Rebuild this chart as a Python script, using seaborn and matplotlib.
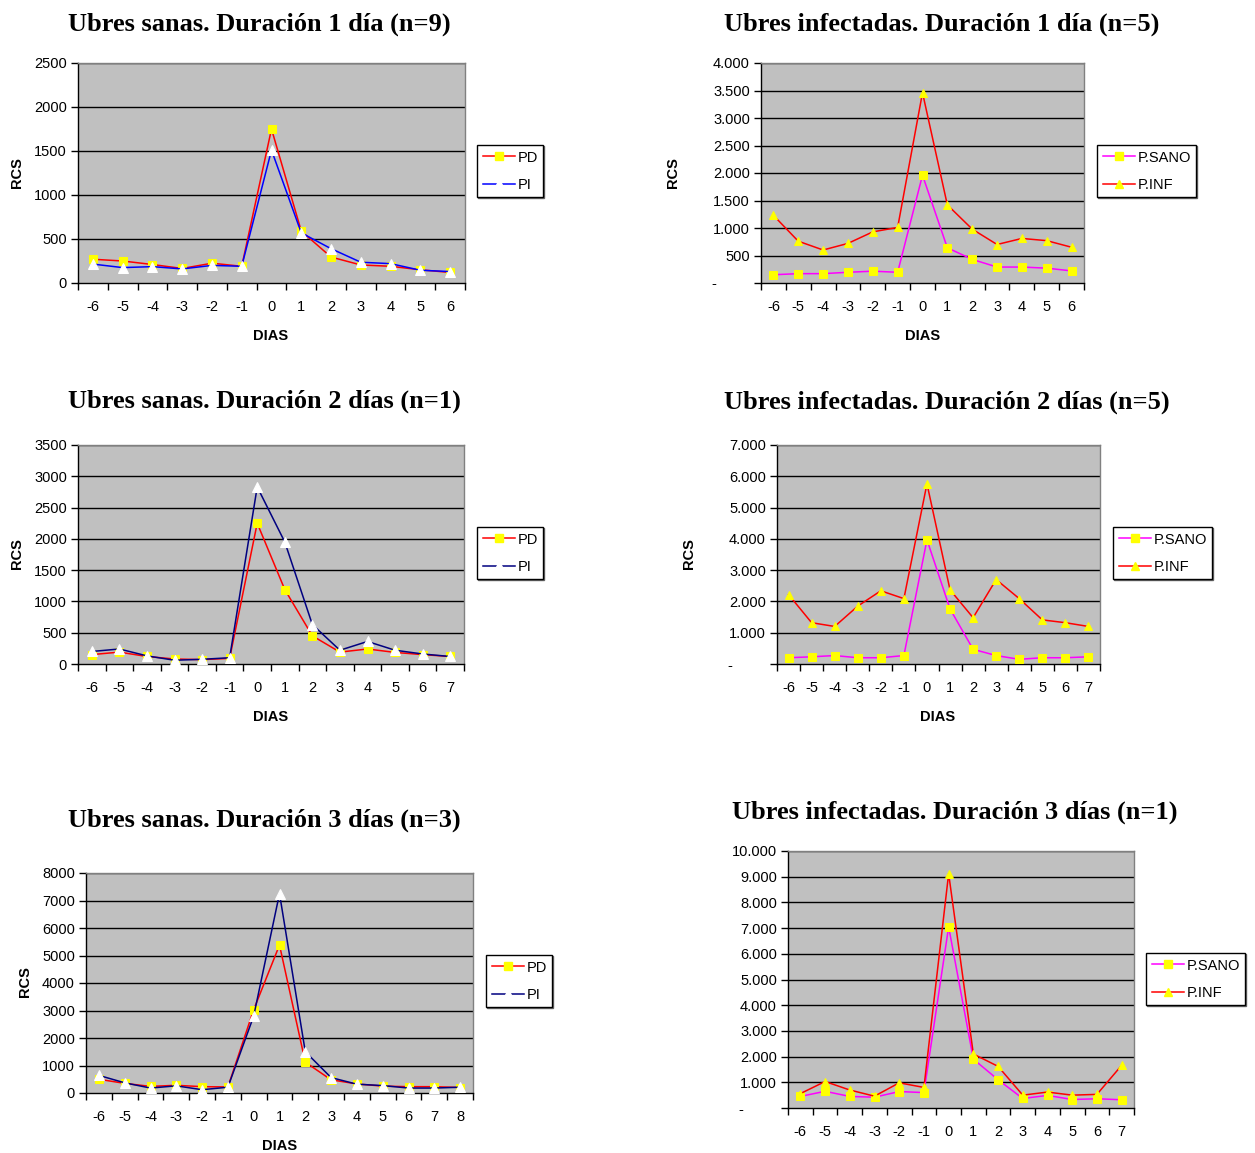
import matplotlib
matplotlib.use("Agg")
import matplotlib.pyplot as plt
import seaborn as sns
from matplotlib.lines import Line2D
from matplotlib.ticker import FixedLocator, FuncFormatter

W, H = 1255, 1153

# ---- data (RCS per day) ----
dias_1 = [-6, -5, -4, -3, -2, -1, 0, 1, 2, 3, 4, 5, 6]
sanas1_pd = [270, 250, 210, 165, 225, 190, 1750, 590, 295, 205, 190, 150, 120]
sanas1_pi = [215, 175, 186, 160, 200, 190, 1510, 570, 390, 236, 220, 145, 130]
inf1_sano = [150, 170, 170, 195, 215, 195, 1960, 640, 430, 290, 290, 270, 220]
inf1_inf = [1230, 760, 600, 720, 930, 1010, 3460, 1420, 980, 700, 810, 770, 650]

dias_2 = [-6, -5, -4, -3, -2, -1, 0, 1, 2, 3, 4, 5, 6, 7]
sanas2_pd = [150, 190, 120, 80, 70, 90, 2250, 1190, 450, 190, 240, 185, 150, 120]
sanas2_pi = [200, 240, 130, 60, 75, 100, 2830, 1950, 630, 220, 360, 220, 160, 120]
inf2_sano = [200, 230, 270, 200, 200, 270, 3970, 1760, 470, 270, 150, 200, 200, 230]
inf2_inf = [2220, 1320, 1200, 1850, 2340, 2090, 5760, 2370, 1480, 2700, 2090, 1410, 1320, 1200]

dias_3s = [-6, -5, -4, -3, -2, -1, 0, 1, 2, 3, 4, 5, 6, 7, 8]
sanas3_pd = [500, 350, 240, 280, 230, 220, 3030, 5380, 1120, 480, 330, 250, 230, 230, 200]
sanas3_pi = [640, 370, 180, 260, 120, 210, 2800, 7250, 1500, 560, 320, 270, 180, 180, 210]

dias_3i = [-6, -5, -4, -3, -2, -1, 0, 1, 2, 3, 4, 5, 6, 7]
inf3_sano = [450, 650, 450, 420, 640, 600, 7050, 1900, 1100, 370, 490, 330, 360, 320]
inf3_inf = [560, 1030, 700, 460, 980, 800, 9120, 2100, 1620, 500, 620, 500, 530, 1660]

plt.rcParams["font.family"] = ["Liberation Sans", "DejaVu Sans"]

fig = plt.figure(figsize=(W / 100, H / 100), dpi=100)

TICK_FS = 10.5


def px_axes(l, t, r, b):
    return fig.add_axes([l / W, 1 - b / H, (r - l) / W, (b - t) / H])


def fmt_plain(v, _):
    return f"{int(v)}"


def fmt_dots(v, _):
    if v == 0:
        return "-        "
    return f"{int(v):,}".replace(",", ".")


SQ = dict(marker="s", markersize=6.2, markerfacecolor="#FFFF00", markeredgecolor="#FFFF00")
TRI_W = dict(marker="^", markersize=6.5, markerfacecolor="white", markeredgecolor="white")
TRI_Y = dict(marker="^", markersize=6.0, markerfacecolor="#FFFF00", markeredgecolor="#FFFF00")


def draw_panel(box, dias, series, ymax, ystep, fmt):
    ax = px_axes(*box)
    ax.set_facecolor("#C0C0C0")
    pos = list(range(len(dias)))
    for vals, color, mk in series:
        sns.lineplot(x=pos, y=vals, ax=ax, color=color, linewidth=1.1,
                     legend=False, clip_on=False, zorder=3, **mk)
    ax.set_xlim(-0.5, len(dias) - 0.5)
    ax.set_ylim(0, ymax)
    yt = list(range(0, ymax + 1, ystep))
    ax.yaxis.set_major_locator(FixedLocator(yt))
    ax.yaxis.set_major_formatter(FuncFormatter(fmt))
    for y in yt[1:]:
        ax.axhline(y, color="black", linewidth=1.0, zorder=1)
    ax.set_xticks(pos)
    ax.set_xticklabels([str(d) for d in dias])
    ax.set_xticks([p - 0.5 for p in pos] + [len(dias) - 0.5], minor=True)
    ax.tick_params(axis="x", which="major", length=0, pad=12, labelsize=TICK_FS)
    ax.tick_params(axis="x", which="minor", length=5, width=1, direction="out")
    ax.tick_params(axis="y", which="major", length=5, width=1, direction="out",
                   pad=3, labelsize=TICK_FS)
    ax.set_xlabel("")
    ax.set_ylabel("")
    for s in ("top", "right"):
        ax.spines[s].set_color("#808080")
        ax.spines[s].set_linewidth(1.0)
    for s in ("left", "bottom"):
        ax.spines[s].set_color("black")
        ax.spines[s].set_linewidth(1.0)
    return ax


def add_legend(x, y, items):
    handles = [Line2D([0], [0], color=c, linewidth=1.1, **mk) for _, c, mk in items]
    labels = [lab for lab, _, _ in items]
    leg = fig.legend(handles, labels, loc="upper left",
                     bbox_to_anchor=(x / W, 1 - y / H), bbox_transform=fig.transFigure,
                     borderaxespad=0, frameon=True, fancybox=False,
                     shadow={"color": "0.4", "alpha": 1.0, "ox": 0.7, "oy": -0.7},
                     fontsize=10.5, handlelength=2.2, handletextpad=0.2,
                     labelspacing=0.9, borderpad=0.38)
    leg.get_frame().set_edgecolor("black")
    leg.get_frame().set_linewidth(1.0)


def title(x, y, text):
    fig.text(x / W, 1 - y / H, text, ha="center", va="center",
             fontsize=19, fontweight="bold", family=["Liberation Serif", "DejaVu Serif"])


def label(x, y, text, rot=0):
    fig.text(x / W, 1 - y / H, text, ha="center", va="center",
             fontsize=10.5, fontweight="bold", rotation=rot)


# top-left
draw_panel((78, 63, 465, 283), dias_1,
           [(sanas1_pd, "#FF0000", SQ), (sanas1_pi, "#0000FF", TRI_W)], 2500, 500, fmt_plain)
title(259, 24, "Ubres sanas. Duración 1 día (n=9)")
label(17, 173, "RCS", 90)
label(271, 336, "DIAS")
add_legend(477, 145, [("PD", "#FF0000", SQ), ("PI", "#0000FF", TRI_W)])

# top-right
draw_panel((761, 63, 1084, 283), dias_1,
           [(inf1_sano, "#FF00FF", SQ), (inf1_inf, "#FF0000", TRI_Y)], 4000, 500, fmt_dots)
title(942, 24, "Ubres infectadas. Duración 1 día (n=5)")
label(673, 173, "RCS", 90)
label(923, 336, "DIAS")
add_legend(1097, 145, [("P.SANO", "#FF00FF", SQ), ("P.INF", "#FF0000", TRI_Y)])

# middle-left
draw_panel((78, 445, 464, 664), dias_2,
           [(sanas2_pd, "#FF0000", SQ), (sanas2_pi, "#000080", TRI_W)], 3500, 500, fmt_plain)
title(264, 401, "Ubres sanas. Duración 2 días (n=1)")
label(17, 554, "RCS", 90)
label(271, 717, "DIAS")
add_legend(477, 527, [("PD", "#FF0000", SQ), ("PI", "#000080", TRI_W)])

# middle-right
draw_panel((777, 445, 1100, 664), dias_2,
           [(inf2_sano, "#FF00FF", SQ), (inf2_inf, "#FF0000", TRI_Y)], 7000, 1000, fmt_dots)
title(947, 402, "Ubres infectadas. Duración 2 días (n=5)")
label(689, 554, "RCS", 90)
label(938, 717, "DIAS")
add_legend(1113, 527, [("P.SANO", "#FF00FF", SQ), ("P.INF", "#FF0000", TRI_Y)])

# bottom-left
draw_panel((86, 873, 473, 1093), dias_3s,
           [(sanas3_pd, "#FF0000", SQ), (sanas3_pi, "#000080", TRI_W)], 8000, 1000, fmt_plain)
title(264, 820, "Ubres sanas. Duración 3 días (n=3)")
label(25, 982, "RCS", 90)
label(280, 1146, "DIAS")
add_legend(486, 955, [("PD", "#FF0000", SQ), ("PI", "#000080", TRI_W)])

# bottom-right
draw_panel((788, 851, 1134, 1108), dias_3i,
           [(inf3_sano, "#FF00FF", SQ), (inf3_inf, "#FF0000", TRI_Y)], 10000, 1000, fmt_dots)
title(955, 812, "Ubres infectadas. Duración 3 días (n=1)")
add_legend(1146, 953, [("P.SANO", "#FF00FF", SQ), ("P.INF", "#FF0000", TRI_Y)])

fig.savefig("out.png", dpi=100, facecolor="white")
